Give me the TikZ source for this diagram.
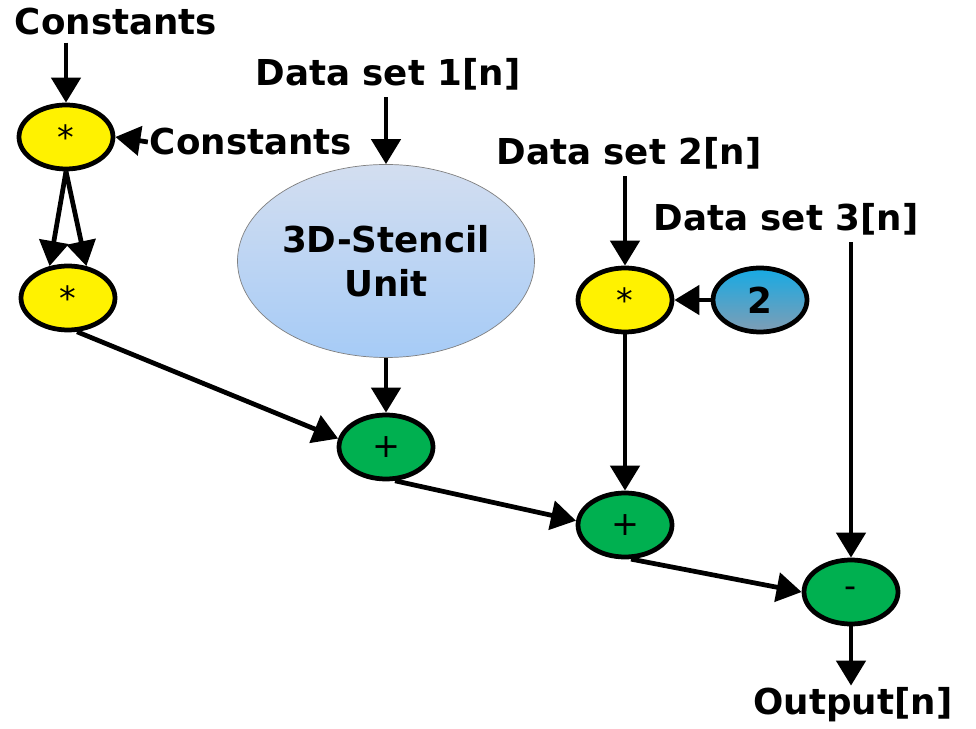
\documentclass[tikz,border=0pt]{standalone}
\usepackage{fontspec}
\setmainfont{DejaVu Sans}
\usetikzlibrary{shapes.geometric, arrows.meta, positioning}

\definecolor{addgreen}{RGB}{0,176,80}
\definecolor{stenciltop}{RGB}{211,222,240}
\definecolor{stencilbot}{RGB}{166,203,246}
\definecolor{twotop}{RGB}{22,170,228}
\definecolor{twobot}{RGB}{128,157,180}

\begin{document}
\begin{tikzpicture}[x=0.2mm, y=-0.2mm, >={Triangle[length=5mm, width=5.8mm]},
	lbl/.style={font=\fontsize{20.3}{24}\selectfont\bfseries, inner sep=1pt},
	op/.style={ellipse, draw=black, line width=0.95mm, minimum width=18.8mm, minimum height=12.8mm, inner sep=0pt, font=\fontsize{19}{21}\selectfont},
	mul/.style={op, fill=yellow},
	add/.style={op, fill=addgreen},
	flow/.style={->, line width=0.95mm}]
	
	\useasboundingbox (0,0) rectangle (976,729);
	
	% --- 1. Eingaenge ---
	\node[lbl] (cst1) at (116,22) {Constants};
	\node[lbl] (cst2) at (251,142) {Constants};
	\node[lbl] (ds1) at (388,74) {Data set 1[n]};
	\node[lbl] (ds2) at (629,153) {Data set 2[n]};
	\node[lbl] (ds3) at (786,219) {Data set 3[n]};
	\node[lbl] (out) at (853,705) {Output[n]};
	
	% --- 2. Rechenknoten ---
	\node[mul] (mul1) at (66,137) {*};
	\node[mul] (mul2) at (68,298) {*};
	\node[mul] (mul3) at (625,300) {*};
	\node[op, top color=twotop, bottom color=twobot, font=\fontsize{20.3}{24}\selectfont\bfseries] (two) at (760,300) {2};
	\node[add] (add1) at (386,447) {+};
	\node[add] (add2) at (625,525) {+};
	\node[add] (sub) at (851,592) {-};
	
	% Stencil-Einheit
	\node[ellipse, draw=gray, thin, top color=stenciltop, bottom color=stencilbot,
	minimum width=59.4mm, minimum height=38.6mm, inner sep=0pt, align=center,
	font=\fontsize{20.3}{25}\selectfont\bfseries] (stencil) at (386,261) {3D-Stencil\\Unit};
	
	% --- 3. Verbindungen ---
	\draw[flow] ([yshift=-1mm]cst1.south -| mul1.north) -- (mul1.north);
	\draw[flow] (cst2.west) -- (mul1.east);
	\draw[flow] (mul1.south) -- (mul2.120);
	\draw[flow] (mul1.south) -- (mul2.60);
	\draw[flow] (mul2.-75) -- (add1.170);
	
	\draw[flow] ([yshift=-1mm]ds1.south -| stencil.north) -- (stencil.north);
	\draw[flow] (stencil.south) -- (add1.north);
	
	\draw[flow] ([yshift=-1mm]ds2.south -| mul3.north) -- (mul3.north);
	\draw[flow] (two.west) -- (mul3.east);
	\draw[flow] (mul3.south) -- (add2.north);
	\draw[flow] (add1.-75) -- (add2.175);
	
	\draw[flow] (add2.-80) -- (sub.west);
	\draw[flow] ([yshift=-1mm]ds3.south -| sub.north) -- (sub.north);
	\draw[flow] (sub.south) -- (sub.south |- out.north);
	
\end{tikzpicture}
\end{document}
